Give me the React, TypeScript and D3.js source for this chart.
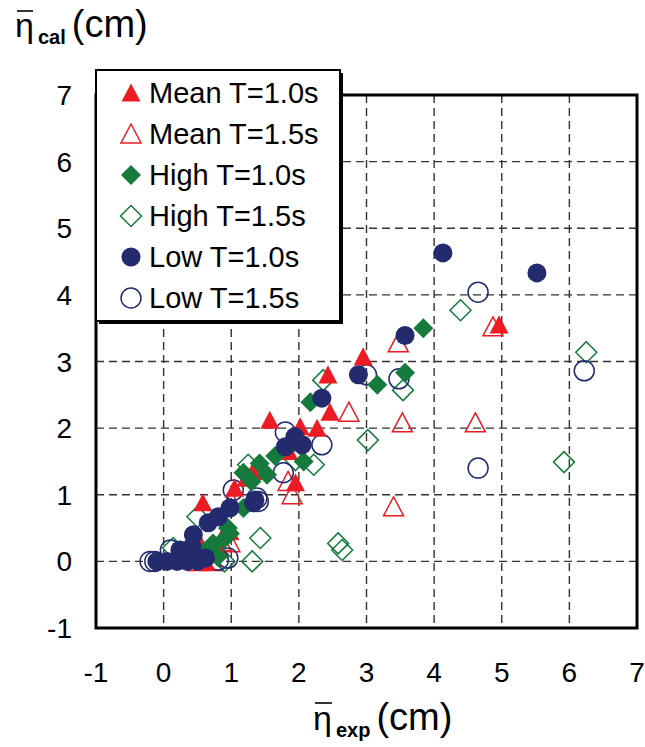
import React from 'react';
import * as d3 from 'd3';

// data: [eta_exp, eta_cal] in cm
const meanT10 = [
  [4.96, 3.55], [2.95, 3.07], [2.43, 2.8], [2.46, 2.24], [2.27, 2.0], [2.02, 2.02],
  [1.57, 2.12], [1.95, 1.18], [1.32, 1.35], [1.05, 1.1], [0.58, 0.88], [0.98, 0.45],
  [0.55, 0.25], [0.35, 0.02], [0.62, 0.0], [0.8, 0.18], [1.85, 1.65], [1.22, 1.25]
];
const meanT15 = [
  [4.87, 3.52], [3.47, 3.28], [3.53, 2.08], [4.61, 2.08], [2.74, 2.24], [3.4, 0.82],
  [1.84, 1.2], [1.9, 1.0], [0.98, 0.28], [0.5, 0.0], [0.72, 0.0], [0.3, 0.05],
  [0.85, 0.3], [1.0, 0.9], [0.2, 0.1]
];
const highT10 = [
  [3.84, 3.5], [3.57, 2.83], [3.16, 2.65], [2.17, 2.39], [2.07, 1.5], [1.65, 1.58],
  [1.53, 1.3], [1.42, 1.47], [1.18, 1.33], [1.18, 0.8], [0.95, 0.5], [0.88, 0.32],
  [0.98, 0.42], [0.73, 0.27], [0.8, 0.07], [0.6, 0.15], [0.45, 0.05], [1.3, 1.2]
];
const highT15 = [
  [4.39, 3.77], [3.54, 2.57], [6.25, 3.14], [5.92, 1.49], [3.02, 1.82], [2.36, 2.72],
  [2.58, 0.27], [2.64, 0.17], [1.43, 0.35], [1.31, 0.0], [2.22, 1.45], [1.25, 1.45],
  [1.95, 1.52], [0.5, 0.67], [0.14, 0.2], [0.3, 0.05], [0.9, 0.0]
];
const lowT10 = [
  [4.13, 4.63], [5.52, 4.33], [3.57, 3.39], [2.88, 2.8], [2.34, 2.45], [1.94, 1.87],
  [2.05, 1.75], [1.8, 1.72], [1.35, 0.92], [0.98, 0.8], [0.81, 0.67], [0.66, 0.58],
  [0.44, 0.4], [0.42, 0.22], [0.24, 0.17], [-0.1, 0.0], [0.05, 0.0], [0.2, 0.0],
  [0.35, 0.0], [0.5, 0.0], [0.62, 0.05], [1.33, 0.88]
];
const lowT15 = [
  [4.65, 4.04], [6.22, 2.86], [4.65, 1.4], [3.48, 2.74], [3.0, 2.8], [2.34, 1.75],
  [1.8, 1.94], [1.77, 1.33], [1.4, 0.9], [1.03, 1.07], [0.81, 0.02], [-0.2, 0.0],
  [-0.13, 0.0], [0.1, 0.17], [0.95, 0.05], [1.38, 0.95]
];

const xTicks = [-1, 0, 1, 2, 3, 4, 5, 6, 7];
const yTicks = [-1, 0, 1, 2, 3, 4, 5, 6, 7];

const RED = '#ed1c24';
const GREEN = '#157a3c';
const NAVY = '#242a6e';
const FONT = '"Liberation Sans", Arial, Helvetica, sans-serif';

// custom shapes, size = half width
const triangle = {
  draw(ctx: any, r: number) {
    ctx.moveTo(0, -r);
    ctx.lineTo(r, r * 0.9);
    ctx.lineTo(-r, r * 0.9);
    ctx.closePath();
  }
};
const diamond = {
  draw(ctx: any, r: number) {
    ctx.moveTo(0, -r);
    ctx.lineTo(r, 0);
    ctx.lineTo(0, r);
    ctx.lineTo(-r, 0);
    ctx.closePath();
  }
};
const circle = {
  draw(ctx: any, r: number) {
    ctx.moveTo(r, 0);
    ctx.arc(0, 0, r, 0, 2 * Math.PI);
  }
};

const series = [
  { name: 'Mean T=1.0s', data: meanT10, shape: triangle, r: 9.5, color: RED, filled: true },
  { name: 'Mean T=1.5s', data: meanT15, shape: triangle, r: 10, color: RED, filled: false },
  { name: 'High T=1.0s', data: highT10, shape: diamond, r: 10, color: GREEN, filled: true },
  { name: 'High T=1.5s', data: highT15, shape: diamond, r: 10.5, color: GREEN, filled: false },
  { name: 'Low T=1.0s', data: lowT10, shape: circle, r: 9.5, color: NAVY, filled: true },
  { name: 'Low T=1.5s', data: lowT15, shape: circle, r: 10, color: NAVY, filled: false }
];
// open markers sit underneath the filled ones
const drawOrder = [1, 3, 5, 0, 2, 4];

function Marker({ s, x, y }: any) {
  const d = d3.symbol().type(s.shape).size(s.r)() as string;
  return (
    <path
      d={d}
      transform={`translate(${x},${y})`}
      fill={s.filled ? s.color : 'none'}
      stroke={s.color}
      strokeWidth={s.filled ? 0 : 1.5}
    />
  );
}

export default function App() {
  const width = 645;
  const height = 747;
  const left = 96, right = 637, top = 95, bottom = 628;

  const x = d3.scaleLinear().domain([-1, 7]).range([left, right]);
  const y = d3.scaleLinear().domain([-1, 7]).range([bottom, top]);

  const lg = { x: 96, y: 70, w: 244, h: 251, row: 41, first: 93 };

  return (
    <div style={{ position: 'absolute', left: 0, top: 0 }}>
      <svg width={width} height={height} style={{ display: 'block', background: '#fff' }} fontFamily={FONT}>
        {/* grid */}
        <g stroke="#333" strokeWidth={1.4} strokeDasharray="8,5">
          {xTicks.slice(1, -1).map(t => (
            <line key={'gx' + t} x1={x(t)} x2={x(t)} y1={top} y2={bottom} />
          ))}
          {yTicks.slice(1, -1).map(t => (
            <line key={'gy' + t} x1={left} x2={right} y1={y(t)} y2={y(t)} />
          ))}
        </g>
        <rect x={left} y={top} width={right - left} height={bottom - top} fill="none" stroke="#000" strokeWidth={3} />

        {/* tick labels */}
        <g fontSize={28} fill="#000">
          {xTicks.map(t => (
            <text key={'tx' + t} x={x(t)} y={682} textAnchor="middle">{t}</text>
          ))}
          {yTicks.map(t => (
            <text key={'ty' + t} x={72} y={y(t) + 10} textAnchor="end">{t}</text>
          ))}
        </g>

        {/* points */}
        {drawOrder.map(i => {
          const s = series[i];
          return (
            <g key={s.name}>
              {s.data.map((p, j) => (
                <Marker key={j} s={s} x={x(p[0])} y={y(p[1])} />
              ))}
            </g>
          );
        })}

        {/* legend */}
        <rect x={lg.x + 3} y={lg.y + 3} width={lg.w} height={lg.h} fill="#000" />
        <rect x={lg.x} y={lg.y} width={lg.w} height={lg.h} fill="#fff" stroke="#000" strokeWidth={2} />
        {series.map((s, i) => {
          const cy = lg.first + i * lg.row;
          return (
            <g key={'lg' + i}>
              <Marker s={s} x={131} y={cy} />
              <text x={149} y={cy + 10} fontSize={29}>{s.name}</text>
            </g>
          );
        })}

        {/* y title */}
        <line x1={17} x2={33} y1={11} y2={11} stroke="#000" strokeWidth={1.6} />
        <text x={15} y={37} fontSize={34}>
          η<tspan fontSize={20} fontWeight="bold" dy={7} dx={4}>cal</tspan>
          <tspan dy={-7} dx={6} fontSize={38}>(cm)</tspan>
        </text>

        {/* x title */}
        <line x1={315} x2={332} y1={703} y2={703} stroke="#000" strokeWidth={1.6} />
        <text x={313} y={730} fontSize={34}>
          η<tspan fontSize={20} fontWeight="bold" dy={7} dx={4}>exp</tspan>
          <tspan dy={-7} dx={6} fontSize={38}>(cm)</tspan>
        </text>
      </svg>
    </div>
  );
}
